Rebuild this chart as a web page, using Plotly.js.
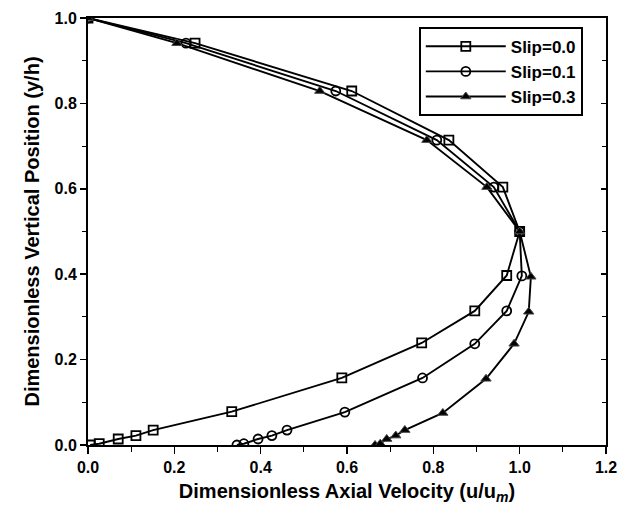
<!DOCTYPE html>
<html>
<head>
<meta charset="utf-8">
<script src="https://cdn.plot.ly/plotly-3.0.1.min.js"></script>
<style>
html,body{margin:0;padding:0;background:#fff;}
#chart{width:621px;height:512px;}
</style>
</head>
<body>
<div id="chart"></div>
<script>
// Slip = 0.0 (squares)
var slip0_x = [0.005, 0.026, 0.070, 0.111, 0.151, 0.333, 0.588, 0.773, 0.896, 0.970, 1.000, 0.961, 0.836, 0.611, 0.248, 0.000];
var slip0_y = [0.000, 0.003, 0.014, 0.022, 0.035, 0.078, 0.157, 0.239, 0.314, 0.397, 0.500, 0.604, 0.714, 0.829, 0.941, 1.000];
// Slip = 0.1 (circles)
var slip1_x = [0.345, 0.361, 0.394, 0.426, 0.461, 0.595, 0.775, 0.896, 0.970, 1.005, 1.000, 0.940, 0.808, 0.574, 0.227, 0.000];
var slip1_y = [0.000, 0.003, 0.014, 0.022, 0.035, 0.077, 0.157, 0.237, 0.314, 0.396, 0.500, 0.604, 0.714, 0.829, 0.941, 1.000];
// Slip = 0.3 (triangles)
var slip3_x = [0.665, 0.677, 0.692, 0.713, 0.734, 0.822, 0.922, 0.987, 1.021, 1.026, 1.000, 0.924, 0.785, 0.537, 0.206, 0.000];
var slip3_y = [0.000, 0.003, 0.014, 0.022, 0.035, 0.075, 0.155, 0.237, 0.312, 0.394, 0.500, 0.604, 0.714, 0.829, 0.941, 1.000];

var seriesNames = ["Slip=0.0", "Slip=0.1", "Slip=0.3"];
var xTickVals = [0, 0.2, 0.4, 0.6, 0.8, 1.0, 1.2];
var xTickText = ["0.0", "0.2", "0.4", "0.6", "0.8", "1.0", "1.2"];
var yTickVals = [0, 0.2, 0.4, 0.6, 0.8, 1.0];
var yTickText = ["0.0", "0.2", "0.4", "0.6", "0.8", "1.0"];

var lineStyle = {color: "black", width: 1.9};
var traces = [
  {x: slip0_x, y: slip0_y, name: seriesNames[0], mode: "lines+markers", line: lineStyle,
   marker: {symbol: "square-open", size: 9, color: "black", line: {width: 1.8}}},
  {x: slip1_x, y: slip1_y, name: seriesNames[1], mode: "lines+markers", line: lineStyle,
   marker: {symbol: "circle-open", size: 9, color: "black", line: {width: 1.8}}},
  {x: slip3_x, y: slip3_y, name: seriesNames[2], mode: "lines+markers", line: lineStyle,
   marker: {symbol: "triangle-up", size: 9, color: "black", line: {width: 1}}}
];

var tickFont = {family: "Liberation Sans, Arial, sans-serif", size: 16, color: "black", weight: "bold"};
var titleFont = {family: "Liberation Sans, Arial, sans-serif", size: 20, color: "black", weight: "bold"};

var layout = {
  width: 621, height: 512,
  margin: {l: 88, r: 15, t: 18, b: 67},
  paper_bgcolor: "white", plot_bgcolor: "white",
  showlegend: true,
  legend: {
    x: 0.639, y: 0.979, xanchor: "left", yanchor: "top",
    bgcolor: "white", bordercolor: "black", borderwidth: 1.8,
    font: {family: "Liberation Sans, Arial, sans-serif", size: 17, color: "black", weight: "bold"},
    itemwidth: 80
  },
  xaxis: {
    range: [0, 1.2], tickvals: xTickVals, ticktext: xTickText,
    ticks: "outside", ticklen: 7, tickwidth: 1.5, tickcolor: "black",
    minor: {dtick: 0.1, tick0: 0, ticks: "outside", ticklen: 5, tickwidth: 1.2, tickcolor: "black", showgrid: false},
    showline: true, linecolor: "black", linewidth: 2, mirror: true,
    showgrid: false, zeroline: false,
    tickfont: tickFont,
    title: {text: "Dimensionless Axial Velocity (u/u<sub><i>m</i></sub>)", font: titleFont, standoff: 9}
  },
  yaxis: {
    range: [0, 1.0], tickvals: yTickVals, ticktext: yTickText,
    ticks: "outside", ticklen: 6, tickwidth: 1.5, tickcolor: "black",
    minor: {dtick: 0.1, tick0: 0, ticks: "outside", ticklen: 4, tickwidth: 1.2, tickcolor: "black", showgrid: false},
    showline: true, linecolor: "black", linewidth: 2, mirror: true,
    showgrid: false, zeroline: false,
    tickfont: tickFont,
    title: {text: "Dimensionless Vertical Position (y/h)", font: titleFont, standoff: 10}
  },
  yaxis2: {
    overlaying: "y", side: "right", range: [0, 1.0], dtick: 0.2, tick0: 0,
    ticks: "inside", ticklen: 5, tickwidth: 1.5, tickcolor: "black",
    minor: {dtick: 0.1, tick0: 0, ticks: "inside", ticklen: 4, tickwidth: 1.2, tickcolor: "black"},
    showticklabels: false, showgrid: false, zeroline: false, showline: false
  }
};

traces.push({x: [0], y: [0], yaxis: "y2", mode: "markers", marker: {opacity: 0}, showlegend: false, hoverinfo: "skip"});

Plotly.newPlot("chart", traces, layout, {displayModeBar: false, staticPlot: true});
</script>
</body>
</html>
